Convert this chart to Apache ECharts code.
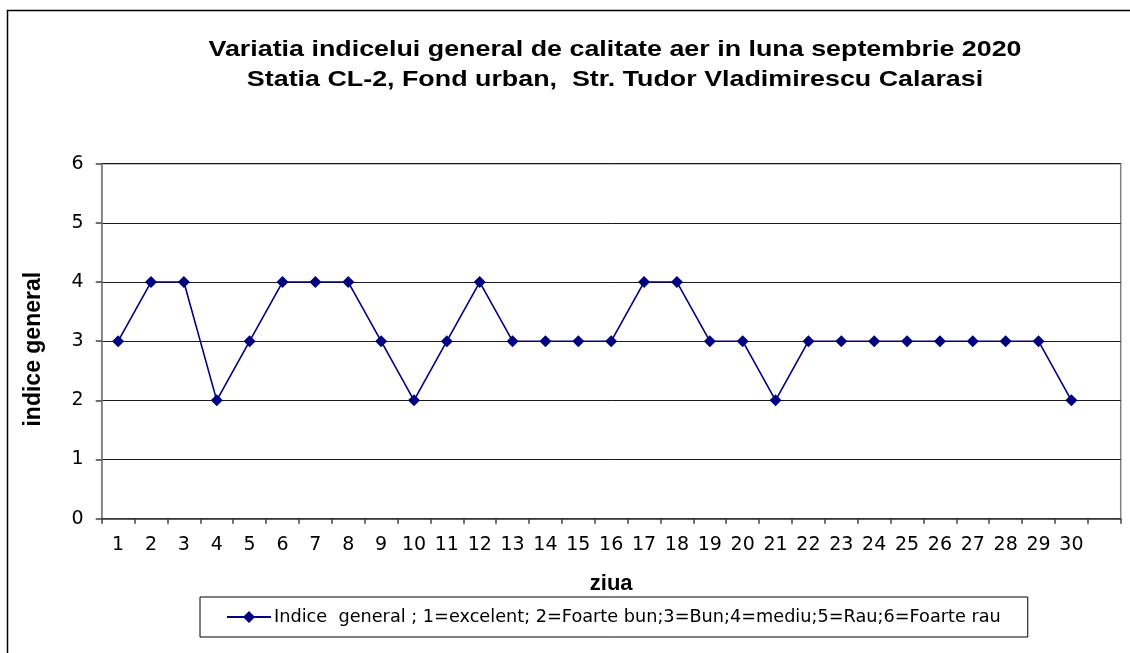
<!DOCTYPE html>
<html><head><meta charset="utf-8">
<script src="https://cdn.jsdelivr.net/npm/echarts@6/dist/echarts.min.js"></script>
<style>html,body{margin:0;padding:0;background:#fff}#c{width:1130px;height:653px}</style>
</head><body><div id="c"></div>
<script>
const days = ['1','2','3','4','5','6','7','8','9','10','11','12','13','14','15','16','17','18','19','20','21','22','23','24','25','26','27','28','29','30',''];
const indiceGeneral = [3,4,4,2,3,4,4,4,3,2,3,4,3,3,3,3,4,4,3,3,2,3,3,3,3,3,3,3,3,2];
const yTicks = [0,1,2,3,4,5,6];
const titleLines = ['Variatia indicelui general de calitate aer in luna septembrie 2020','Statia CL-2, Fond urban,  Str. Tudor Vladimirescu Calarasi'];
const seriesName = 'Indice  general ; 1=excelent; 2=Foarte bun;3=Bun;4=mediu;5=Rau;6=Foarte rau';
const xName = 'ziua';
const yName = 'indice general';

const chart = echarts.init(document.getElementById('c'), null, {renderer:'canvas'});
const F = '"Liberation Sans", Arial, sans-serif';
const D = '"DejaVu Sans", sans-serif';
chart.setOption({
  animation:false,
  backgroundColor:'#fff',
  graphic:[
    {type:'rect', shape:{x:7.5,y:10.5,width:1140,height:700}, style:{fill:'none',stroke:'#000',lineWidth:1.5}, silent:true, z:-1},
    {type:'text', x:615, y:49.5, scaleX:1.22, scaleY:1, silent:true,
      style:{text:titleLines[0], font:'bold 22px '+F, fill:'#000', textAlign:'center', textVerticalAlign:'middle'}},
    {type:'text', x:615, y:80, scaleX:1.22, scaleY:1, silent:true,
      style:{text:titleLines[1], font:'bold 22px '+F, fill:'#000', textAlign:'center', textVerticalAlign:'middle'}}
  ],
  grid:{left:101.7, right:9.3, top:163.7, bottom:134.3, show:true, borderColor:'#808080', borderWidth:1.5, backgroundColor:'transparent'},
  legend:{
    left:200, top:597,
    padding:[11,27,11,27],
    borderColor:'#000', borderWidth:1,
    itemWidth:44, itemHeight:12, itemGap:0,
    textStyle:{fontFamily:D, fontSize:17.7, color:'#000', padding:[0,0,0,-2]},
    data:[{name:seriesName, icon:'path://M0,5 L44,5 L44,7 L0,7 Z M22,0 L28,6 L22,12 L16,6 Z'}]
  },
  xAxis:{
    type:'category', data:days, boundaryGap:true,
    name:xName, nameLocation:'middle', nameGap:54,
    nameTextStyle:{fontFamily:F, fontWeight:'bold', fontSize:22, color:'#000'},
    axisLine:{show:true, lineStyle:{color:'#404040', width:1.5}},
    axisTick:{show:true, interval:0, alignWithLabel:false, length:5, lineStyle:{color:'#404040', width:1.5}},
    axisLabel:{interval:0, margin:17, fontFamily:D, fontSize:19, color:'#000'},
    splitLine:{show:false}
  },
  yAxis:{
    type:'value', min:0, max:6, interval:1,
    name:yName, nameLocation:'middle', nameGap:57, nameRotate:90,
    nameTextStyle:{fontFamily:F, fontWeight:'bold', fontSize:23, color:'#000', padding:[0,16,0,0]},
    axisLine:{show:true, lineStyle:{color:'#808080', width:1.5}},
    axisTick:{show:true, length:6, lineStyle:{color:'#404040', width:1.5}},
    axisLabel:{margin:18, fontFamily:D, fontSize:19, color:'#000',
      formatter:v=> yTicks.includes(v)? String(v):''},
    splitLine:{show:true, lineStyle:{color:'#1a1a1a', width:1}}
  },
  series:[{
    name:seriesName, type:'line', data:indiceGeneral,
    symbol:'diamond', symbolSize:[12,12],
    lineStyle:{color:'#000080', width:1.6},
    itemStyle:{color:'#000080'},
    emphasis:{disabled:true}
  }]
});
</script></body></html>
